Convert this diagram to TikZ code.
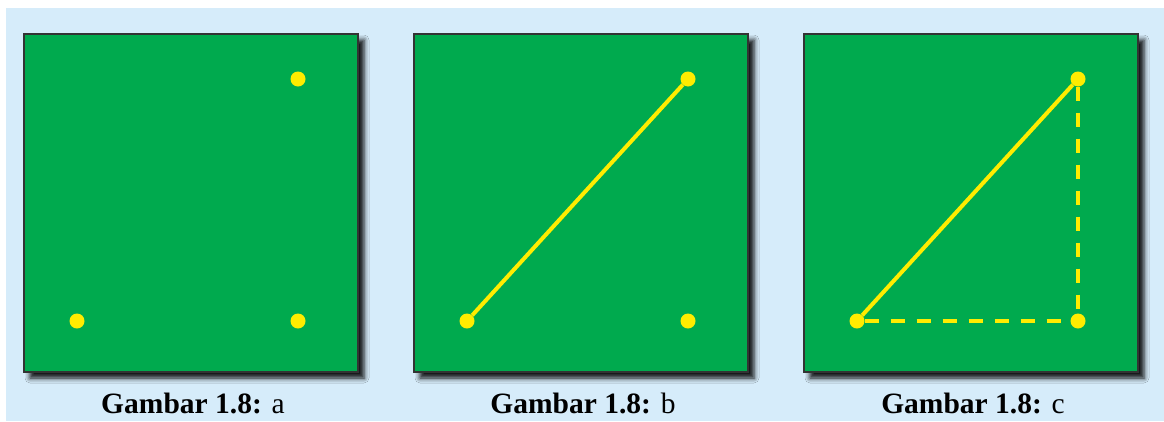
\documentclass[tikz,border=0pt]{standalone}
\usepackage{fontspec}
\setmainfont{Liberation Serif}
\usetikzlibrary{shadows.blur}
\definecolor{bgblue}{RGB}{214,236,250}
\definecolor{boardgreen}{RGB}{0,170,78}
\definecolor{dotyellow}{RGB}{255,236,0}

\begin{document}
\begin{tikzpicture}[x=1pt,y=-1pt,
  board/.style={draw=black!80,line width=2pt,fill=boardgreen,
    blur shadow={shadow xshift=6pt,shadow yshift=-6pt,shadow blur radius=5pt,shadow opacity=95}},
  pt/.style={circle,fill=dotyellow,minimum size=15pt,inner sep=0pt},
  seg/.style={dotyellow,line width=4pt},
  gap/.style={seg,dash pattern=on 14pt off 12pt},
  caption/.style={font=\fontsize{29.5}{34}\selectfont}]
\useasboundingbox (0,0) rectangle (1164,421);
\fill[bgblue] (6,8) rectangle (1164,421);
\foreach \i/\x in {a/24,b/414,c/804}{
  \draw[board] (\x,34) rectangle ++(334,338);
  \node[pt] (bl\i) at (\x+53,321) {};
  \node[pt] (br\i) at (\x+274,321) {};
  \node[pt] (tr\i) at (\x+274,79) {};
  \node[caption] (cap\i) at (\x+169,403) {\textbf{Gambar 1.8:} \i};}
% garis lurus
\draw[seg] (blb) -- (trb);
\draw[seg] (blc) -- (trc);
% garis putus-putus
\draw[gap] (blc) -- (brc);
\draw[gap] (trc) -- (brc);
\end{tikzpicture}
\end{document}
